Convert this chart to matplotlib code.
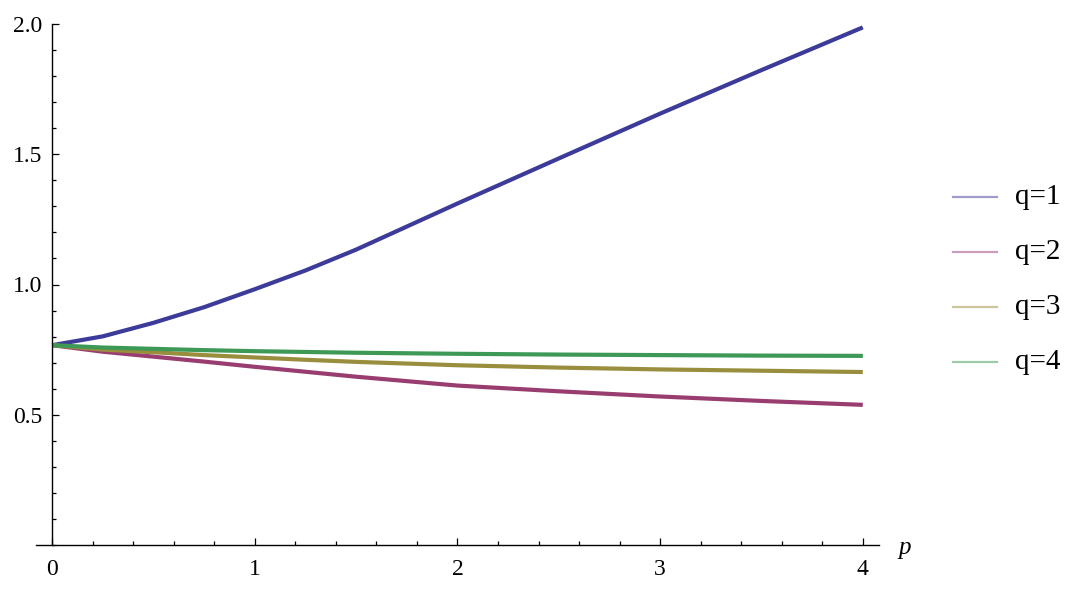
import matplotlib.pyplot as plt
from matplotlib.lines import Line2D
from matplotlib.ticker import MultipleLocator

# values
p = [0, 0.25, 0.5, 0.75, 1.0, 1.25, 1.5, 2.0, 2.5, 3.0, 3.5, 4.0]
q1 = [0.767, 0.801, 0.853, 0.913, 0.982, 1.054, 1.134, 1.311, 1.484, 1.656, 1.823, 1.987]
q2 = [0.767, 0.742, 0.723, 0.704, 0.684, 0.665, 0.646, 0.612, 0.590, 0.570, 0.553, 0.538]
q3 = [0.767, 0.750, 0.740, 0.729, 0.720, 0.711, 0.703, 0.690, 0.681, 0.674, 0.669, 0.664]
q4 = [0.767, 0.758, 0.753, 0.748, 0.744, 0.741, 0.738, 0.734, 0.731, 0.729, 0.727, 0.726]
labels = ['q=1', 'q=2', 'q=3', 'q=4']
colors = ['#3d3b99', '#993d71', '#998e3d', '#3d9955']

plt.rcParams['font.family'] = ['Liberation Serif', 'DejaVu Serif']

fig = plt.figure(figsize=(10.8, 5.91), dpi=100)
ax = fig.add_axes([36 / 1080, 46 / 591, 843 / 1080, 521 / 591])

for ys, c in zip([q1, q2, q3, q4], colors):
    ax.plot(p, ys, color=c, lw=3.0, solid_capstyle='butt', solid_joinstyle='round')

ax.set_xlim(-0.08, 4.08)
ax.set_ylim(0, 2.0)

ax.spines['top'].set_visible(False)
ax.spines['right'].set_visible(False)
ax.spines['left'].set_position(('data', 0))
ax.spines['bottom'].set_position(('data', 0))
for s in ['left', 'bottom']:
    ax.spines[s].set_linewidth(1.0)

ax.xaxis.set_major_locator(MultipleLocator(1))
ax.xaxis.set_minor_locator(MultipleLocator(0.2))
ax.set_yticks([0.5, 1.0, 1.5, 2.0])
ax.set_yticklabels(['0.5', '1.0', '1.5', '2.0'])
ax.yaxis.set_minor_locator(MultipleLocator(0.1))
ax.tick_params(which='both', direction='in', width=0.9, labelsize=17)
ax.tick_params(which='major', length=5)
ax.tick_params(which='minor', length=3)
ax.tick_params(axis='x', pad=10)
ax.tick_params(axis='y', pad=7)

fig.text(905 / 1080, 1 - 548 / 591, 'p', fontsize=18, style='italic',
         ha='center', va='center')

# legend on the right
for i, (lab, c) in enumerate(zip(labels, colors)):
    yy = 1 - (197 + 55 * i) / 591
    fig.add_artist(Line2D([953 / 1080, 997 / 1080], [yy, yy], color=c,
                          alpha=0.5, lw=1.6, transform=fig.transFigure))
    fig.text(1015 / 1080, yy, lab, fontsize=21, ha='left', va='center')

fig.savefig('out.png', dpi=100)
